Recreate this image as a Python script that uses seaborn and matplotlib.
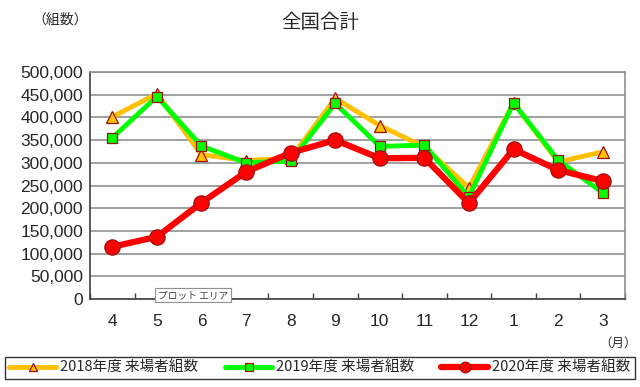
import pandas as pd
import matplotlib
matplotlib.use("Agg")
import matplotlib.pyplot as plt
from matplotlib.ticker import MultipleLocator, FuncFormatter, FixedLocator
import seaborn as sns

# data
months = ["4", "5", "6", "7", "8", "9", "10", "11", "12", "1", "2", "3"]
visitors_2018 = [401000, 452000, 318000, 305000, 310000, 442000, 382000, 335000, 245000, 432000, 302000, 324000]
visitors_2019 = [355000, 446000, 337000, 300000, 304000, 431000, 336000, 339000, 225000, 432000, 306000, 234000]
visitors_2020 = [115000, 137000, 212000, 280000, 322000, 350000, 310000, 311000, 211000, 330000, 284000, 260000]
series_names = ["2018年度 来場者組数", "2019年度 来場者組数", "2020年度 来場者組数"]

sns.set_theme(style="white")
plt.rcParams['font.family'] = ['Noto Sans CJK JP', 'DejaVu Sans']

rows = []
for name, vals in zip(series_names, [visitors_2018, visitors_2019, visitors_2020]):
    for i, (m, v) in enumerate(zip(months, vals)):
        rows.append({"pos": i, "month": m, "series": name, "value": v})
df = pd.DataFrame(rows)

styles = {
    series_names[0]: dict(color="#FFC000", marker="^", ms=8, lw=3.5, z=2),
    series_names[1]: dict(color="#00FF00", marker="s", ms=7.5, lw=3.5, z=3),
    series_names[2]: dict(color="#FF0000", marker="o", ms=11, lw=4.5, z=4),
}

fig = plt.figure(figsize=(6.4, 3.87), dpi=100)
ax = fig.add_axes([90 / 640, 1 - 299 / 387, 535 / 640, 227 / 387])

for name in series_names:
    st = styles[name]
    sub = df[df["series"] == name]
    sns.lineplot(data=sub, x="pos", y="value", ax=ax, color=st["color"],
                 linewidth=st["lw"], marker=st["marker"], markersize=st["ms"],
                 markerfacecolor=st["color"], markeredgecolor="#A01010",
                 markeredgewidth=0.9, label=name, zorder=st["z"])

ax.set_xlim(-0.5, len(months) - 0.5)
ax.set_ylim(0, 500000)
ax.yaxis.set_major_locator(MultipleLocator(50000))
ax.yaxis.set_major_formatter(FuncFormatter(lambda v, p: f"{int(v):,}"))
ax.set_xticks(range(len(months)))
ax.set_xticklabels(months)
ax.xaxis.set_minor_locator(FixedLocator([i + 0.5 for i in range(-1, len(months))]))
ax.tick_params(axis="x", which="major", length=0, pad=11, labelsize=12.5)
ax.tick_params(axis="x", which="minor", direction="in", length=4, color="#404040", bottom=True)
ax.tick_params(axis="y", length=0, pad=5, labelsize=12.5)
for lbl in ax.get_xticklabels() + ax.get_yticklabels():
    lbl.set_fontfamily(['Liberation Sans', 'DejaVu Sans'])
ax.set_xlabel("")
ax.set_ylabel("")
ax.grid(axis="y", color="#909090", linewidth=1.2)
ax.set_axisbelow(True)
for side in ["top", "right"]:
    ax.spines[side].set_color("#909090")
for side in ["left", "bottom"]:
    ax.spines[side].set_color("#404040")
for sp in ax.spines.values():
    sp.set_linewidth(1.2)

fig.text(0.5, 1 - 22 / 387, "全国合計", ha="center", va="center", fontsize=14)
fig.text(60 / 640, 1 - 20 / 387, "（組数）", ha="center", va="center", fontsize=10)
fig.text(618 / 640, 1 - 343 / 387, "（月）", ha="center", va="center", fontsize=9)
fig.text(193 / 640, 1 - 295 / 387, "プロット エリア", ha="center", va="center", fontsize=7,
         color="#404040",
         bbox=dict(boxstyle="square,pad=0.25", fc="white", ec="#909090", lw=0.8))

ax.get_legend().remove()
handles, labels = ax.get_legend_handles_labels()
leg = fig.legend(handles, labels, loc="center", ncol=3,
                 bbox_to_anchor=(5 / 640, 1 - 384 / 387, 630 / 640, 32 / 387),
                 mode="expand", frameon=True, fancybox=False, fontsize=10.5,
                 handlelength=3.2, handletextpad=0.3, columnspacing=0.8,
                 markerscale=0.7, borderpad=0.3, borderaxespad=0)
leg.get_frame().set_edgecolor("black")
leg.get_frame().set_linewidth(1.0)

fig.savefig("out.png", dpi=100)
